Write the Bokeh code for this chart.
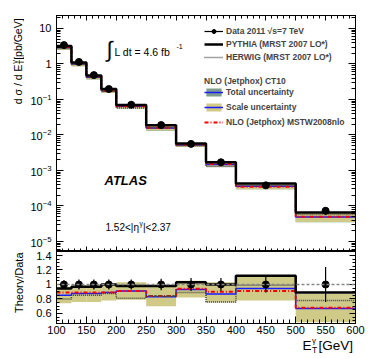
import numpy as np
from bokeh.plotting import figure
from bokeh.layouts import column, row
from bokeh.models import (Range1d, LogAxis, LinearAxis, LogTicker, SingleIntervalTicker,
                          LogTickFormatter, Legend, LegendItem, Label, Span)
from bokeh.embed import file_html
from bokeh.resources import INLINE

# ---------------- data ----------------
bin_edges = [100, 125, 150, 175, 200, 250, 300, 350, 400, 500, 600]
bin_centers = [112.5, 137.5, 162.5, 187.5, 225, 275, 325, 375, 450, 550]
data_xsec = [3.4, 1.14, 0.485, 0.197, 0.071, 0.019, 0.0056, 0.0017, 3.8e-4, 7.3e-5]
data_rel_err = [0.06, 0.07, 0.07, 0.07, 0.07, 0.08, 0.09, 0.09, 0.11, 0.24]
data_ratio = [1.0, 1.0, 1.0, 1.0, 1.0, 1.0, 1.0, 1.0, 1.0, 1.0]
pythia_ratio = [0.945, 0.97, 0.97, 1.0, 0.98, 0.98, 1.03, 1.0, 1.12, 0.89]
herwig_ratio = [0.80, 0.85, 0.85, 0.875, 0.81, 0.84, 0.89, 0.76, 0.99, 0.78]
ct10_ratio = [0.85, 0.875, 0.875, 0.89, 0.91, 0.83, 0.93, 0.87, 0.945, 0.67]
mstw_ratio = [0.89, 0.89, 0.89, 0.89, 0.91, 0.84, 0.94, 0.90, 0.91, 0.68]
scale_lo = [0.74, 0.76, 0.76, 0.78, 0.79, 0.70, 0.82, 0.75, 0.78, 0.48]
scale_hi = [0.97, 0.99, 0.99, 1.01, 1.03, 0.97, 1.05, 1.03, 1.12, 0.87]
total_lo = [0.735, 0.755, 0.755, 0.775, 0.785, 0.695, 0.815, 0.745, 0.775, 0.475]
total_hi = [0.975, 0.995, 0.995, 1.015, 1.035, 0.975, 1.055, 1.035, 1.125, 0.875]

FONT = "Liberation Sans"
KHAKI = "#cfca87"
TOTAL = "#7e9c8b"
BLUE = "#1a1aff"
RED = "#ff0000"

d = np.array(data_xsec)
lefts = bin_edges[:-1]
rights = bin_edges[1:]


def stepy(vals):
    v = list(vals)
    return v + [v[-1]]


def style_axis(ax, tin, tmin, labels=True):
    ax.major_tick_in = tin
    ax.major_tick_out = 0
    ax.minor_tick_in = tmin
    ax.minor_tick_out = 0
    ax.axis_line_color = "black"
    ax.major_tick_line_color = "black"
    ax.minor_tick_line_color = "black"
    ax.major_label_text_font = FONT
    ax.major_label_text_color = "black"
    if labels:
        ax.major_label_text_font_size = "11px"
    else:
        ax.major_label_text_font_size = "1px"
        ax.major_label_text_alpha = 0
        ax.major_label_standoff = 0


def frame_text(p, fb, px, py, text, size, style="normal", align="left", angle=0.0):
    p.add_layout(Label(x=px - 56, y=fb - py, x_units="screen", y_units="screen",
                       text=text, text_font=FONT, text_font_size=f"{size}px",
                       text_font_style=style, text_align=align, text_baseline="middle",
                       angle=angle, text_color="black"))


def data_text(p, x, y, text, size, align="left", angle=0.0):
    p.add_layout(Label(x=x, y=y, text=text, text_font=FONT, text_font_size=f"{size}px",
                       text_align=align, text_baseline="middle", angle=angle,
                       text_color="black"))


STRIP = 24
BL = 56 - STRIP

xr = Range1d(100, 600)
p1 = figure(frame_width=299, frame_height=236, x_range=xr, y_range=Range1d(5.2e-6, 23.2),
            y_axis_type="log", output_backend="svg", toolbar_location=None,
            min_border_left=BL, min_border_right=11, min_border_top=15, min_border_bottom=0)
p1.xgrid.visible = False
p1.ygrid.visible = False
p1.outline_line_color = "black"

xt = SingleIntervalTicker(interval=50, num_minor_ticks=5)
lt = LogTicker(num_minor_ticks=10)

p1.xaxis.ticker = xt
style_axis(p1.xaxis[0], 5, 3, labels=False)
style_axis(p1.yaxis[0], 7, 4)
p1.yaxis[0].ticker = lt
p1.yaxis[0].formatter = LogTickFormatter(min_exponent=0)
p1.yaxis[0].major_label_overrides = {10: "10", 1: "1"}
p1.yaxis[0].major_label_standoff = 5

ax_top = LinearAxis(ticker=xt)
style_axis(ax_top, 5, 3, labels=False)
p1.add_layout(ax_top, "above")
ax_r1 = LogAxis(ticker=lt)
style_axis(ax_r1, 7, 4, labels=False)
p1.add_layout(ax_r1, "right")

r_tot = p1.quad(left=lefts, right=rights, bottom=d * np.array(total_lo), top=d * np.array(total_hi),
                fill_color=TOTAL, line_color=None)
r_scl = p1.quad(left=lefts, right=rights, bottom=d * np.array(scale_lo), top=d * np.array(scale_hi),
                fill_color=KHAKI, line_color=None)
r_ct10 = p1.step(x=bin_edges, y=stepy(d * np.array(ct10_ratio)), mode="after",
                 line_color=BLUE, line_width=1.5)
r_mstw = p1.step(x=bin_edges, y=stepy(d * np.array(mstw_ratio)), mode="after",
                 line_color=RED, line_width=2, line_dash="4 2 1 2")
r_herw = p1.step(x=bin_edges, y=stepy(d * np.array(herwig_ratio)), mode="after",
                 line_color="#444444", line_width=1.5, line_dash="1 1")
r_pyth = p1.step(x=bin_edges, y=stepy(d * np.array(pythia_ratio)), mode="after",
                 line_color="black", line_width=2.5)
r_err = p1.segment(x0=bin_centers, x1=bin_centers, y0=d * (1 - np.array(data_rel_err)),
                   y1=d * (1 + np.array(data_rel_err)), line_color="black", line_width=1.2)
r_pts = p1.scatter(x=bin_centers, y=data_xsec, size=7, marker="circle",
                   fill_color="black", line_color="black")

leg1 = Legend(items=[
    LegendItem(label="Data 2011 √s=7 TeV", renderers=[r_err, r_pts]),
    LegendItem(label="PYTHIA (MRST 2007 LO*)", renderers=[r_pyth]),
    LegendItem(label="HERWIG (MRST 2007 LO*)", renderers=[r_herw]),
], location=(148, 189))
leg2 = Legend(items=[
    LegendItem(label="Total uncertainty", renderers=[r_tot, r_ct10]),
    LegendItem(label="Scale uncertainty", renderers=[r_scl, r_ct10]),
    LegendItem(label="NLO (Jetphox) MSTW2008nlo", renderers=[r_mstw]),
], location=(148, 124), title="NLO (Jetphox) CT10")
for lg, sp in ((leg1, 3), (leg2, 5)):
    lg.padding = 0
    lg.margin = 0
    lg.spacing = sp
    lg.glyph_width = 19
    lg.glyph_height = 10
    lg.label_height = 10
    lg.label_standoff = 3
    lg.border_line_color = None
    lg.background_fill_alpha = 0
    lg.label_text_font = FONT
    lg.label_text_font_size = "8.5px"
    lg.label_text_font_style = "bold"
    lg.title_text_font = FONT
    lg.title_text_font_size = "8.5px"
    lg.title_text_font_style = "bold"
    lg.title_standoff = 1
    p1.add_layout(lg)

FB1 = 251
frame_text(p1, FB1, 106, 49, "∫", 22)
frame_text(p1, FB1, 114, 51, "L dt =  4.6 fb", 10.5)
frame_text(p1, FB1, 176, 46, "-1", 7)
frame_text(p1, FB1, 104, 180, "ATLAS", 13, style="bold italic")
frame_text(p1, FB1, 105, 227, "1.52<|η", 10)
frame_text(p1, FB1, 139, 223, "γ", 6.5)
frame_text(p1, FB1, 142.5, 227, "|<2.37", 10)

p2 = figure(frame_width=299, frame_height=72, x_range=xr, y_range=Range1d(0.462, 1.455),
            output_backend="svg", toolbar_location=None,
            min_border_left=BL, min_border_right=11, min_border_top=0, min_border_bottom=12)
p2.xgrid.visible = False
p2.ygrid.visible = False
p2.outline_line_color = "black"

rt = SingleIntervalTicker(interval=0.2, num_minor_ticks=4)
p2.xaxis.ticker = xt
style_axis(p2.xaxis[0], 7, 4)
p2.xaxis[0].major_label_standoff = 2
p2.yaxis.ticker = rt
style_axis(p2.yaxis[0], 6, 3)
p2.yaxis[0].major_label_overrides = {1: "1"}
p2.yaxis[0].major_label_standoff = 5
ax_r2 = LinearAxis(ticker=rt)
style_axis(ax_r2, 6, 3, labels=False)
p2.add_layout(ax_r2, "right")

p2.quad(left=lefts, right=rights, bottom=scale_lo, top=scale_hi, fill_color=KHAKI, line_color=None)
p2.add_layout(Span(location=1.0, dimension="width", line_color="#888888",
                   line_width=1.5, line_dash="3 2"))
p2.step(x=bin_edges, y=stepy(ct10_ratio), mode="after", line_color=BLUE, line_width=1.5)
p2.step(x=bin_edges, y=stepy(mstw_ratio), mode="after", line_color=RED, line_width=2,
        line_dash="4 2 1 2")
p2.step(x=bin_edges, y=stepy(herwig_ratio), mode="after", line_color="#444444",
        line_width=1.5, line_dash="1 1")
p2.step(x=bin_edges, y=stepy(pythia_ratio), mode="after", line_color="black", line_width=2.5)
p2.segment(x0=bin_centers, x1=bin_centers, y0=1 - np.array(data_rel_err),
           y1=1 + np.array(data_rel_err), line_color="black", line_width=1.2)
p2.scatter(x=bin_centers, y=data_ratio, size=7, marker="circle",
           fill_color="black", line_color="black")

# left title strip (page-pixel coordinates)
left_strip = figure(width=STRIP, height=359, x_range=Range1d(0, STRIP), y_range=Range1d(359, 0),
                    x_axis_location=None, y_axis_location=None, output_backend="svg",
                    toolbar_location=None, min_border=0, outline_line_color=None)
left_strip.grid.visible = False
data_text(left_strip, 17, 15, " [pb/GeV]", 10.5, align="right", angle=np.pi / 2)
data_text(left_strip, 13.5, 59.4, "γ", 7.5, align="right", angle=np.pi / 2)
data_text(left_strip, 20.5, 59.4, "T", 7.5, align="right", angle=np.pi / 2)
data_text(left_strip, 17, 64, "d σ / d E", 10.5, align="right", angle=np.pi / 2)
data_text(left_strip, 18.5, 252, "Theory/Data", 11, align="right", angle=np.pi / 2)

# bottom title strip: frame aligned with the panels, x mapped to page pixels 56..355
bottom_strip = figure(frame_width=299, frame_height=21, x_range=Range1d(56, 355),
                      y_range=Range1d(359, 338), x_axis_location=None, y_axis_location=None,
                      output_backend="svg", toolbar_location=None, min_border_left=BL,
                      min_border_right=11, min_border_top=0, min_border_bottom=0,
                      outline_line_color=None)
bottom_strip.grid.visible = False
data_text(bottom_strip, 302, 347, "E", 13.5)
data_text(bottom_strip, 311.5, 351, "T", 8.5)
data_text(bottom_strip, 311.5, 342, "γ", 8)
data_text(bottom_strip, 318, 347, "[GeV]", 13.5)

layout = row(left_strip, column(p1, p2, bottom_strip))
open("out.html", "w").write(file_html(layout, INLINE))
